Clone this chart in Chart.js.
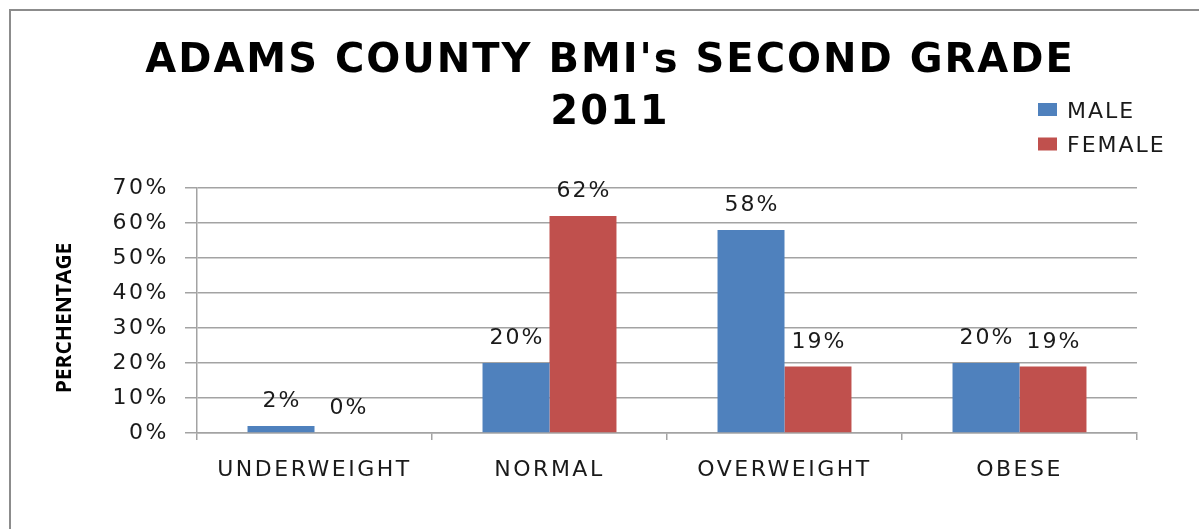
<!DOCTYPE html>
<html>
<head>
<meta charset="utf-8">
<script src="https://cdn.jsdelivr.net/npm/chart.js@4"></script>
<style>
  html, body { margin: 0; padding: 0; background: #fff; overflow: hidden; }
  #wrap { position: relative; width: 1199px; height: 529px; }
  #frame { position: absolute; left: 9px; top: 9px; width: 1300px; height: 700px; border: 2px solid #8c8c8c; }
  #grafico { position: absolute; left: 0; top: 0; }
</style>
</head>
<body>
<div id="wrap">
  <div id="frame"></div>
  <canvas id="grafico" width="1199" height="529"></canvas>
</div>
<script>
const titleLines = ["ADAMS COUNTY BMI's SECOND GRADE", '2011'];
const yAxisTitle = 'PERCHENTAGE';
const categories = ['UNDERWEIGHT', 'NORMAL', 'OVERWEIGHT', 'OBESE'];
const seriesNames = ['MALE', 'FEMALE'];
const maleValues = [2, 20, 58, 20];
const femaleValues = [0, 62, 19, 19];
const yMax = 70;
const yStep = 10;

const corTexto = '#1a1a1a';
const corGrade = '#a3a3a3';

/* texto "esticado" como na imagem original */
const espacamento = {
  id: 'espacamento',
  beforeUpdate(chart) { chart.ctx.letterSpacing = '2.5px'; },
  beforeDraw(chart) { chart.ctx.letterSpacing = '2.5px'; }
};

/* rótulos em cima das barras */
const rotulos = {
  id: 'rotulos',
  afterDatasetsDraw(chart) {
    const ctx = chart.ctx;
    ctx.save();
    ctx.letterSpacing = '2px';
    ctx.font = '22px "DejaVu Sans"';
    ctx.fillStyle = corTexto;
    ctx.textAlign = 'center';
    ctx.textBaseline = 'alphabetic';
    chart.data.datasets.forEach((ds, i) => {
      chart.getDatasetMeta(i).data.forEach((bar, j) => {
        ctx.fillText(ds.data[j] + '%', bar.x + 1, bar.y - 19);
      });
    });
    ctx.restore();
  }
};

/* título, legenda e título do eixo y */
const extras = {
  id: 'extras',
  afterDraw(chart) {
    const ctx = chart.ctx;
    ctx.save();
    ctx.fillStyle = '#000';
    ctx.textAlign = 'center';
    ctx.textBaseline = 'alphabetic';
    ctx.font = 'bold 40px "DejaVu Sans"';
    ctx.letterSpacing = '2px';
    ctx.fillText(titleLines[0], 610, 72);
    ctx.fillText(titleLines[1], 610, 124);

    // legenda
    ctx.font = '22px "DejaVu Sans"';
    ctx.letterSpacing = '2px';
    ctx.textAlign = 'left';
    chart.data.datasets.forEach((ds, i) => {
      const cy = 109.5 + i * 34.5;
      ctx.fillStyle = ds.backgroundColor;
      ctx.fillRect(1038, cy - 6.5, 19, 13);
      ctx.fillStyle = corTexto;
      ctx.fillText(ds.label, 1067, cy + 8);
    });

    // eixo y
    ctx.translate(71, 318);
    ctx.rotate(-Math.PI / 2);
    ctx.letterSpacing = '0px';
    ctx.font = 'bold 21px "Open Sans"';
    ctx.textAlign = 'center';
    ctx.fillStyle = '#000';
    ctx.fillText(yAxisTitle, 0, 0);
    ctx.restore();
  }
};

const ctx = document.getElementById('grafico');

const grafico = new Chart(ctx, {
  type: 'bar',
  data: {
    labels: categories,
    datasets: [
      { label: seriesNames[0], data: maleValues, backgroundColor: '#4f81bd', borderWidth: 0 },
      { label: seriesNames[1], data: femaleValues, backgroundColor: '#c0504d', borderWidth: 0 }
    ]
  },
  options: {
    responsive: false,
    animation: false,
    layout: { padding: { left: 77, right: 62, top: 188, bottom: 36 } },
    datasets: { bar: { categoryPercentage: 0.57, barPercentage: 1.0 } },
    plugins: {
      legend: { display: false },
      title: { display: false },
      tooltip: { enabled: false }
    },
    scales: {
      x: {
        offset: true,
        grid: { offset: true, drawOnChartArea: false, drawTicks: true, tickLength: 7, color: corGrade, lineWidth: 1.5 },
        border: { display: true, color: corGrade, width: 1.5 },
        ticks: { color: corTexto, font: { family: 'DejaVu Sans', size: 22 }, padding: 17, maxRotation: 0, autoSkip: false },
        afterFit(scale) { scale.height = 60; }
      },
      y: {
        min: 0,
        max: yMax,
        grid: { color: corGrade, lineWidth: 1.5, tickLength: 12 },
        border: { display: true, color: corGrade, width: 1.5 },
        ticks: {
          stepSize: yStep,
          color: corTexto,
          font: { family: 'DejaVu Sans', size: 22 },
          padding: 16,
          callback: v => v + '%'
        },
        afterFit(scale) { scale.width = 120; }
      }
    }
  },
  plugins: [espacamento, rotulos, extras]
});
</script>
</body>
</html>
